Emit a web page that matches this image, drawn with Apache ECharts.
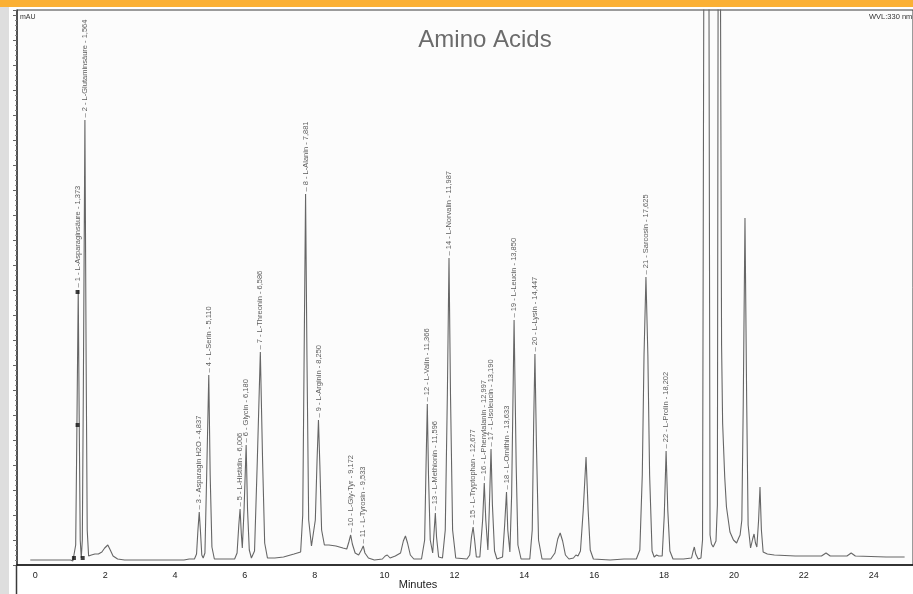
<!DOCTYPE html>
<html><head><meta charset="utf-8">
<script src="https://cdn.jsdelivr.net/npm/echarts@6/dist/echarts.min.js"></script>
<style>html,body{margin:0;padding:0;background:#fff;overflow:hidden}#c{width:913px;height:594px}</style>
</head><body><div id="c"></div>
<script>
// Chromatogram trace: [minutes, mAU]
const chromatogram = [
  [0.00,5],[1.15,5],[1.22,4],[1.27,5],[1.30,20],[1.33,120],[1.373,275],[1.40,150],[1.43,25],[1.46,7],
  [1.49,25],[1.52,180],[1.564,445],[1.60,200],[1.63,35],[1.67,9],[1.75,10],[1.85,11],[1.95,11],[2.05,13],
  [2.13,17],[2.22,20],[2.29,15],[2.37,9],[2.50,6],[2.70,5],[4.40,5],[4.55,6],[4.70,6],[4.76,11],
  [4.80,35],[4.837,53],[4.87,35],[4.91,10],[4.95,7],[5.00,12],[5.05,90],[5.110,190],[5.15,90],[5.20,18],
  [5.27,6],[5.85,6],[5.92,12],[5.97,40],[6.006,56],[6.04,32],[6.07,17],[6.12,55],[6.180,120],[6.22,55],
  [6.27,15],[6.33,7],[6.42,14],[6.50,105],[6.586,213],[6.65,105],[6.71,22],[6.79,7],[7.00,7],[7.25,8],
  [7.55,11],[7.74,13],[7.80,50],[7.84,210],[7.881,371],[7.92,210],[7.97,45],[8.05,19],[8.10,18],[8.16,45],
  [8.21,105],[8.250,145],[8.29,100],[8.34,35],[8.42,20],[8.55,20],[8.75,19],[8.95,17],[9.06,16],[9.12,23],
  [9.172,30],[9.22,21],[9.30,12],[9.40,10],[9.48,15],[9.533,19],[9.58,12],[9.68,7],[9.85,5],[10.08,6],
  [10.16,9],[10.22,10],[10.30,7],[10.45,9],[10.60,12],[10.68,24],[10.74,29],[10.80,22],[10.88,10],[10.98,6],
  [11.20,6],[11.29,25],[11.33,100],[11.366,161],[11.40,90],[11.45,25],[11.52,12],[11.55,28],[11.596,52],[11.63,28],
  [11.69,8],[11.80,7],[11.88,35],[11.94,170],[11.987,307],[12.03,170],[12.09,35],[12.18,7],[12.50,6],[12.58,10],
  [12.63,28],[12.677,38],[12.72,25],[12.77,8],[12.87,8],[12.95,45],[12.997,82],[13.04,45],[13.10,15],[13.14,55],
  [13.190,116],[13.23,60],[13.29,14],[13.36,6],[13.52,8],[13.58,40],[13.633,73],[13.67,35],[13.73,13],[13.78,70],
  [13.850,245],[13.91,100],[13.96,20],[14.05,6],[14.30,6],[14.37,35],[14.41,140],[14.447,211],[14.49,120],[14.55,25],
  [14.65,6],[14.90,6],[15.02,12],[15.10,26],[15.17,32],[15.24,24],[15.32,10],[15.42,6],[15.55,7],[15.62,10],
  [15.68,9],[15.75,14],[15.83,55],[15.91,108],[15.97,55],[16.03,15],[16.12,6],[16.60,5],[17.00,6],[17.35,6],
  [17.45,15],[17.52,90],[17.57,210],[17.625,288],[17.68,210],[17.73,90],[17.80,14],[17.86,8],[17.93,10],[17.99,9],
  [18.04,7],[18.09,9],[18.15,50],[18.202,114],[18.25,55],[18.31,14],[18.40,6],[18.70,6],[18.93,7],[18.97,13],
  [19.01,18],[19.05,11],[19.12,6],[19.20,7],[19.245,25],[19.28,560],[19.35,2000],[19.43,560],[19.46,30],[19.50,21],
  [19.55,18],[19.63,24],[19.67,60],[19.69,560],[19.73,1500],[19.76,560],[19.79,220],[19.82,142],[19.88,88],[19.93,58],
  [20.03,33],[20.13,25],[20.22,22],[20.28,27],[20.32,30],[20.37,45],[20.41,160],[20.46,347],[20.51,160],[20.55,40],
  [20.62,17],[20.68,26],[20.72,31],[20.76,22],[20.80,18],[20.85,45],[20.89,78],[20.93,35],[20.98,13],[21.10,11],
  [21.30,10],[21.90,9],[22.65,9],[22.78,12],[22.90,9],[23.38,9],[23.50,12],[23.62,9],[24.50,8],[25.03,8]
];

// Identified peaks
const peakNames = [
  'L-Asparaginsäure','L-Glutaminsäure','Asparagin H2O','L-Serin','L-Histidin','Glycin',
  'L-Threonin','L-Alanin','L-Arginin','L-Gly-Tyr','L-Tyrosin','L-Valin','L-Methionin',
  'L-Norvalin','L-Tryptophan','L-Phenylalanin','L-Isoleucin','L-Ornithin','L-Leucin',
  'L-Lysin','Sarcosin','L-Prolin'
];
const peakMinutes = [1.373,1.564,4.837,5.110,6.006,6.180,6.586,7.881,8.250,9.172,9.533,
  11.366,11.596,11.987,12.677,12.997,13.190,13.633,13.850,14.447,17.625,18.202];
const peakMAU = [275,445,53,190,56,120,213,371,145,30,19,161,52,307,38,82,116,73,245,211,288,114];

// Integration marks on peak 1
const markMinutes = [1.25,1.354,1.354,1.50];
const markMAU = [7,140,273,7];

const xTickValues = [0,2,4,6,8,10,12,14,16,18,20,22,24];
const chartTitle = 'Amino Acids';
const yUnit = 'mAU';
const channel = 'WVL:330 nm';
const xName = 'Minutes';

const peakData = peakMinutes.map((t, i) => ({
  value: [t, peakMAU[i]],
  name: (i + 1) + ' - ' + peakNames[i] + ' - ' + t.toFixed(3).replace('.', ',')
}));
const markData = markMinutes.map((t, i) => [t, markMAU[i]]);

const font = 'Liberation Sans, Arial, sans-serif';
const chart = echarts.init(document.getElementById('c'), null, {renderer: 'canvas'});
chart.setOption({
  animation: false,
  backgroundColor: '#ffffff',
  textStyle: {fontFamily: font},
  grid: {left: 17, right: 0, top: 10, bottom: 29, show: true,
    backgroundColor: '#fcfcfc', borderColor: '#3a3a3a', borderWidth: 1},
  xAxis: {
    type: 'value', min: -0.38, max: 25.27,
    axisLine: {show: true, onZero: false, lineStyle: {color: '#111', width: 1.5}},
    axisTick: {show: false},
    splitLine: {show: false},
    axisLabel: {customValues: xTickValues, fontSize: 9, color: '#222', margin: 6,
      padding: [0, 0, 0, 10], fontFamily: font}
  },
  yAxis: {
    type: 'value', min: 0, max: 555, interval: 25,
    axisLine: {show: true, onZero: false, lineStyle: {color: '#3a3a3a', width: 1.5}},
    axisTick: {show: true, length: 4, lineStyle: {color: '#666'}},
    minorTick: {show: true, splitNumber: 5, length: 2, lineStyle: {color: '#888'}},
    axisLabel: {show: false},
    splitLine: {show: false}
  },
  graphic: [
    {type: 'rect', shape: {x: 0, y: 0, width: 913, height: 7}, style: {fill: '#fbb034'}, z: 100},
    {type: 'rect', shape: {x: 0, y: 7, width: 9, height: 587}, style: {fill: '#dedede'}, z: 100},
    {type: 'line', shape: {x1: 16.5, y1: 565, x2: 16.5, y2: 594}, style: {stroke: '#3a3a3a', lineWidth: 1.5}, z: 100},
    {type: 'text', x: 485, y: 40, z: 100, style: {text: chartTitle, font: '24px ' + font,
      fill: '#6b6b6b', align: 'center', verticalAlign: 'middle'}},
    {type: 'text', x: 20, y: 17, z: 100, style: {text: yUnit, font: '7px ' + font,
      fill: '#333', align: 'left', verticalAlign: 'middle'}},
    {type: 'text', x: 869, y: 17, z: 100, style: {text: channel, font: '7.5px ' + font,
      fill: '#333', align: 'left', verticalAlign: 'middle'}},
    {type: 'text', x: 418, y: 585, z: 100, style: {text: xName, font: '11px ' + font,
      fill: '#222', align: 'center', verticalAlign: 'middle'}}
  ],
  series: [
    {type: 'line', data: chromatogram, symbol: 'none', showSymbol: false, clip: true,
      lineStyle: {color: '#666666', width: 1.1}, z: 2, silent: true},
    {type: 'scatter', data: peakData, symbolSize: 1, itemStyle: {color: 'transparent'}, z: 3, silent: true,
      label: {show: true, position: 'top', distance: 2, rotate: 90, align: 'left', verticalAlign: 'middle',
        fontSize: 7.5, color: '#333', fontFamily: font,
        formatter: p => '\u2013 ' + p.data.name}},
    {type: 'scatter', data: markData, symbol: 'rect', symbolSize: 4, itemStyle: {color: '#111'}, z: 4, silent: true}
  ]
});
</script>
</body></html>
